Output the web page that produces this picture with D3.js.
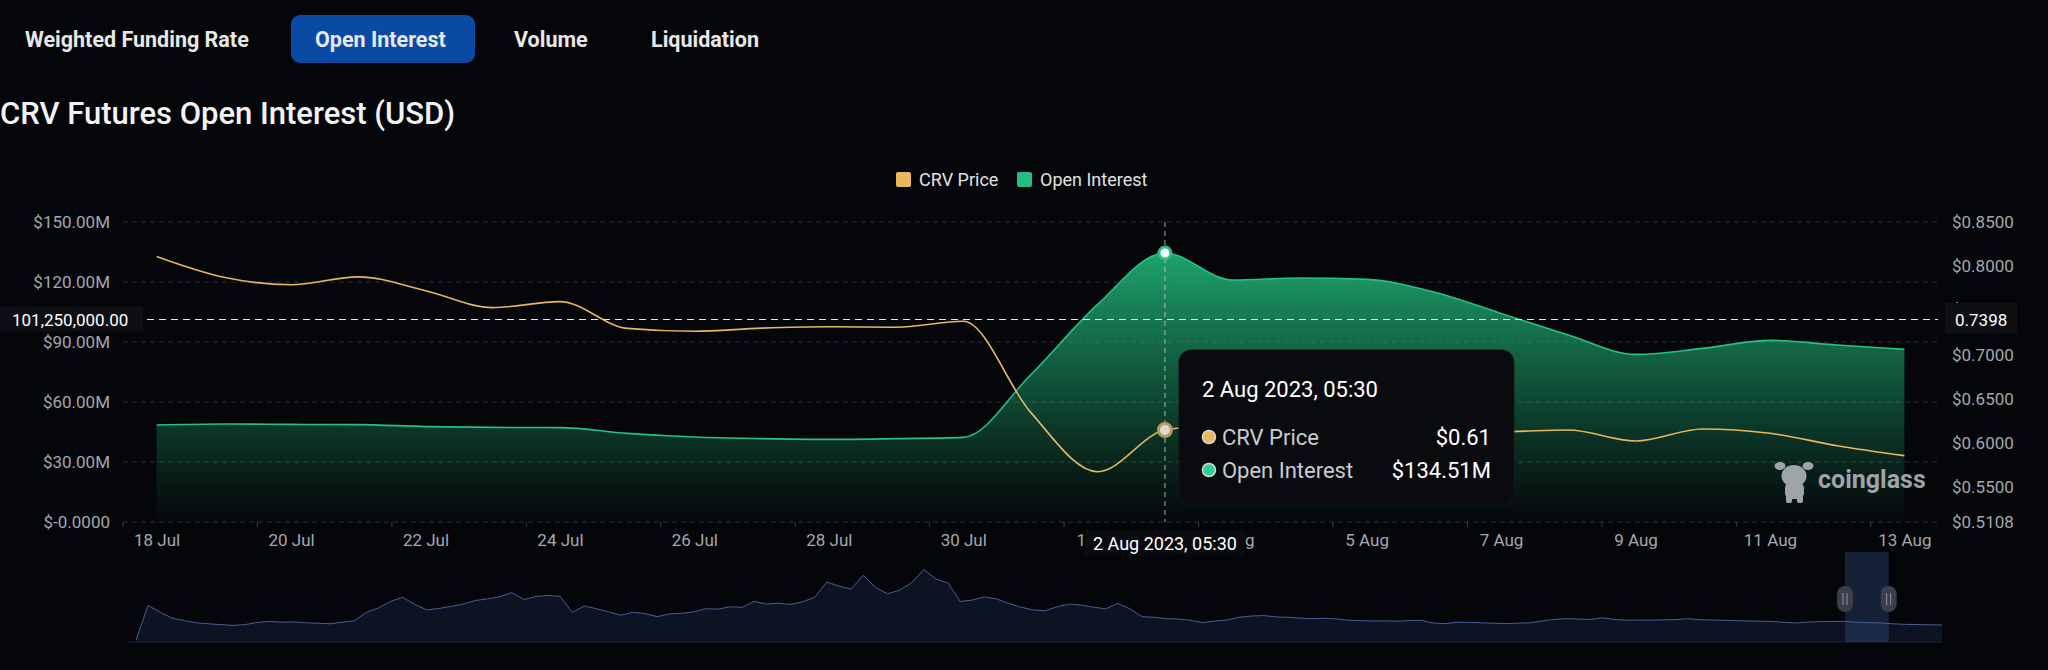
<!DOCTYPE html>
<html lang="en">
<head>
<meta charset="utf-8">
<title>CRV Futures Open Interest</title>
<script src="https://cdn.jsdelivr.net/npm/d3@7"></script>
<style>
body { margin: 0; background: #05060a; }
text { font-family: Roboto, "Noto Sans", sans-serif; }
.tab { fill: #e8e8e8; font-size: 21.5px; font-weight: 700; }
.axis text { fill: #a4a7ae; font-size: 17px; }
.legend text { fill: #e2e2e2; font-size: 18px; }
</style>
</head>
<body>
<script>
// daily points, 18 Jul - 13 Aug 2023
var days = ["18 Jul","19 Jul","20 Jul","21 Jul","22 Jul","23 Jul","24 Jul","25 Jul","26 Jul",
  "27 Jul","28 Jul","29 Jul","30 Jul","31 Jul","1 Aug","2 Aug","3 Aug","4 Aug","5 Aug",
  "6 Aug","7 Aug","8 Aug","9 Aug","10 Aug","11 Aug","12 Aug","13 Aug"];

// open interest, $M
var openInterest = [48.5, 49.0, 48.8, 48.7, 47.7, 47.3, 47.2, 44.3, 42.5,
  41.7, 41.3, 41.7, 42.3, 73.5, 108.8, 134.51, 121.0, 122.0, 121.3,
  115.0, 104.3, 93.5, 83.8, 86.8, 90.8, 88.5, 86.3];

// CRV price, $
var crvPrice = [0.811, 0.7875, 0.779, 0.788, 0.7723, 0.7532, 0.760, 0.7297, 0.7264,
  0.730, 0.7316, 0.731, 0.7377, 0.635, 0.5677, 0.6148, 0.622, 0.625, 0.618,
  0.614, 0.613, 0.6148, 0.6024, 0.616, 0.6111, 0.5971, 0.5858];

var oiTicks = [0, 30, 60, 90, 120, 150];
var oiTickLabels = ["$-0.0000", "$30.00M", "$60.00M", "$90.00M", "$120.00M", "$150.00M"];
var priceTicks = [0.5108, 0.55, 0.60, 0.65, 0.70, 0.75, 0.80, 0.85];
var priceTickLabels = ["$0.5108", "$0.5500", "$0.6000", "$0.6500", "$0.7000", "$0.7500", "$0.8000", "$0.8500"];

// hover state shown in the picture
var hoverIndex = 15;
var hoverLabel = "2 Aug 2023, 05:30";
var pointerOI = 101.25;
var pointerOILabel = "101,250,000.00";
var pointerPriceLabel = "0.7398";

// long history in the zoom slider, $M
var oiHistory = [10, 185, 150, 120, 108, 97, 92, 88, 84, 88, 99, 104, 100, 102, 97, 95, 92, 100, 107, 150,
  172, 205, 226, 190, 162, 170, 180, 192, 210, 218, 228, 250, 215, 230, 236, 230, 150, 182, 168, 152,
  136, 150, 144, 128, 142, 145, 152, 168, 166, 178, 175, 205, 192, 196, 190, 203, 226, 303, 282, 268,
  337, 276, 244, 262, 300, 366, 318, 298, 205, 212, 228, 218, 195, 176, 162, 158, 178, 192, 186, 176,
  168, 195, 168, 128, 125, 118, 116, 110, 98, 106, 111, 125, 131, 134, 127, 125, 121, 118, 120, 117,
  110, 108, 106, 107, 105, 108, 110, 96, 93, 100, 99, 97, 95, 93, 95, 97, 106, 114, 118, 116,
  114, 122, 114, 110, 111, 110, 112, 113, 118, 113, 111, 110, 108, 106, 105, 104, 99, 96, 101, 103,
  104, 104, 100, 98, 96, 92, 89, 88, 87, 86];
var historyWindow = [141, 144.6];

var tabs = ["Weighted Funding Rate", "Open Interest", "Volume", "Liquidation"];
var activeTab = 1;

var W = 2048, H = 670;
var svg = d3.select("body").append("svg")
  .attr("width", W)
  .attr("height", H);

svg.append("rect").attr("width", W).attr("height", H).attr("fill", "#05060a");

/* tabs */
var tabX = [25, 315, 514, 651];
tabs.forEach(function(t, i) {
  if (i == activeTab) {
    svg.append("rect")
      .attr("x", 291).attr("y", 15).attr("width", 184).attr("height", 48)
      .attr("rx", 9).attr("fill", "#0b4aa4");
  }
  svg.append("text").attr("class", "tab")
    .attr("x", tabX[i]).attr("y", 39)
    .attr("dominant-baseline", "central")
    .attr("fill", "#fff")
    .text(t);
});

svg.append("text")
  .attr("x", 0).attr("y", 113)
  .attr("dominant-baseline", "central")
  .attr("fill", "#f2f2f2")
  .style("font-size", "31px").style("font-weight", 500)
  .text("CRV Futures Open Interest (USD)");

/* legend */
var legend = svg.append("g").attr("class", "legend");
var legendItems = [["CRV Price", "#eab85c", 896], ["Open Interest", "#22bf80", 1017]];
legendItems.forEach(function(d) {
  legend.append("rect").attr("x", d[2]).attr("y", 172).attr("width", 15).attr("height", 15)
    .attr("rx", 2).attr("fill", d[1]);
  legend.append("text").attr("x", d[2] + 23).attr("y", 179.5)
    .attr("dominant-baseline", "central").text(d[0]);
});

/* scales */
var gridLeft = 123, gridRight = 1938, plotTop = 222, plotBottom = 522;
var x = d3.scalePoint().domain(days).range([gridLeft, gridRight]).padding(0.5);
var yL = d3.scaleLinear().domain([0, 150]).range([plotBottom, plotTop]);
var yR = d3.scaleLinear().domain([0.5108, 0.85]).range([plotBottom, plotTop]);

/* grid */
svg.append("g").selectAll("line")
  .data(oiTicks)
  .enter().append("line")
  .attr("x1", gridLeft).attr("x2", gridRight)
  .attr("y1", function(d) { return yL(d); })
  .attr("y2", function(d) { return yL(d); })
  .attr("stroke", "#2c2e35")
  .attr("stroke-dasharray", "5,4");

// x ticks on category boundaries, every 2 days
var step = x.step();
svg.append("g").selectAll("line")
  .data(d3.range(0, days.length + 1, 2))
  .enter().append("line")
  .attr("x1", function(k) { return gridLeft + k * step; })
  .attr("x2", function(k) { return gridLeft + k * step; })
  .attr("y1", plotBottom).attr("y2", plotBottom + 5)
  .attr("stroke", "#3a3c44");

/* open interest area */
var grad = svg.append("defs").append("linearGradient")
  .attr("id", "oiFill")
  .attr("gradientUnits", "userSpaceOnUse")
  .attr("x1", 0).attr("x2", 0)
  .attr("y1", yL(d3.max(openInterest))).attr("y2", plotBottom);
grad.append("stop").attr("offset", 0).attr("stop-color", "#22b97a").attr("stop-opacity", 0.88);
grad.append("stop").attr("offset", 0.6).attr("stop-color", "#1a9f68").attr("stop-opacity", 0.38);
grad.append("stop").attr("offset", 1).attr("stop-color", "#14804f").attr("stop-opacity", 0.02);

var area = d3.area()
  .x(function(d, i) { return x(days[i]); })
  .y0(plotBottom)
  .y1(function(d) { return yL(d); })
  .curve(d3.curveMonotoneX);

svg.append("path")
  .datum(openInterest)
  .attr("d", area)
  .attr("fill", "url(#oiFill)");

var oiLine = d3.line()
  .x(function(d, i) { return x(days[i]); })
  .y(function(d) { return yL(d); })
  .curve(d3.curveMonotoneX);

svg.append("path")
  .datum(openInterest)
  .attr("d", oiLine)
  .attr("fill", "none")
  .attr("stroke", "#25c184")
  .attr("stroke-width", 1.6);

/* price line */
var priceLine = d3.line()
  .x(function(d, i) { return x(days[i]); })
  .y(function(d) { return yR(d); })
  .curve(d3.curveMonotoneX);

svg.append("path")
  .datum(crvPrice)
  .attr("d", priceLine)
  .attr("fill", "none")
  .attr("stroke", "#e6b75e")
  .attr("stroke-width", 1.6);

/* watermark */
var wm = svg.append("g").attr("fill", "#b9bdc3").attr("opacity", 0.85);
wm.append("ellipse").attr("cx", 1794).attr("cy", 476).attr("rx", 12.5).attr("ry", 11);
wm.append("ellipse").attr("cx", 1780).attr("cy", 466).attr("rx", 5.5).attr("ry", 4);
wm.append("ellipse").attr("cx", 1808).attr("cy", 466).attr("rx", 5.5).attr("ry", 4);
wm.append("rect").attr("x", 1785).attr("y", 482).attr("width", 19).attr("height", 17).attr("rx", 6);
wm.append("rect").attr("x", 1786).attr("y", 494).attr("width", 6).attr("height", 9).attr("rx", 2);
wm.append("rect").attr("x", 1797).attr("y", 494).attr("width", 6).attr("height", 9).attr("rx", 2);
wm.append("text").attr("x", 1818).attr("y", 488)
  .style("font-size", "25px").style("font-weight", 700)
  .text("coinglass");

/* crosshair */
var hx = x(days[hoverIndex]);
svg.append("line")
  .attr("x1", hx).attr("x2", hx).attr("y1", plotTop).attr("y2", plotBottom)
  .attr("stroke", "#cfd2d6").attr("stroke-dasharray", "5,4").attr("opacity", 0.8);
svg.append("line")
  .attr("x1", gridLeft).attr("x2", gridRight)
  .attr("y1", yL(pointerOI)).attr("y2", yL(pointerOI))
  .attr("stroke", "#e8e8e8").attr("stroke-width", 1.2).attr("stroke-dasharray", "7,5");

svg.append("circle")
  .attr("cx", hx).attr("cy", yL(openInterest[hoverIndex])).attr("r", 6)
  .attr("fill", "#ffffff").attr("stroke", "#25c184").attr("stroke-width", 3);
svg.append("circle")
  .attr("cx", hx).attr("cy", yR(crvPrice[hoverIndex])).attr("r", 6.5)
  .attr("fill", "#d9d9d9").attr("stroke", "#bb9858").attr("stroke-width", 3);

/* axes */
var axL = svg.append("g").attr("class", "axis")
  .attr("transform", "translate(" + (gridLeft - 13) + ",0)")
  .call(d3.axisLeft(yL).tickValues(oiTicks)
    .tickFormat(function(d, i) { return oiTickLabels[i]; })
    .tickSize(0).tickPadding(0));
axL.select(".domain").remove();

var axR = svg.append("g").attr("class", "axis")
  .attr("transform", "translate(" + (gridRight + 14) + ",0)")
  .call(d3.axisRight(yR).tickValues(priceTicks)
    .tickFormat(function(d, i) { return priceTickLabels[i]; })
    .tickSize(0).tickPadding(0));
axR.select(".domain").remove();

var axB = svg.append("g").attr("class", "axis")
  .attr("transform", "translate(0," + (plotBottom + 8) + ")")
  .call(d3.axisBottom(x)
    .tickValues(days.filter(function(d, i) { return i % 2 == 0; }))
    .tickSize(0).tickPadding(4));
axB.select(".domain").remove();

svg.selectAll(".axis text").style("font-family", "Roboto, sans-serif");

/* pointer labels */
svg.append("rect").attr("x", 0).attr("y", yL(pointerOI) - 13).attr("width", 143).attr("height", 25)
  .attr("fill", "#0e0f13");
svg.append("text").attr("x", 12).attr("y", yL(pointerOI))
  .attr("dominant-baseline", "central").attr("fill", "#fff").style("font-size", "17px")
  .text(pointerOILabel);

svg.append("rect").attr("x", 1945).attr("y", yL(pointerOI) - 16.5).attr("width", 72).attr("height", 30)
  .attr("fill", "#0e0f13");
svg.append("text").attr("x", 1955).attr("y", yL(pointerOI))
  .attr("dominant-baseline", "central").attr("fill", "#fff").style("font-size", "17px")
  .text(pointerPriceLabel);

svg.append("rect").attr("x", hx - 80).attr("y", plotBottom + 8).attr("width", 160).attr("height", 25)
  .attr("fill", "#0b0c10");
svg.append("text").attr("x", hx).attr("y", plotBottom + 21)
  .attr("text-anchor", "middle").attr("dominant-baseline", "central")
  .attr("fill", "#fff").style("font-size", "18px")
  .text(hoverLabel);

/* tooltip */
var tip = svg.append("g").attr("transform", "translate(" + (hx + 14) + ",350)");
tip.append("rect").attr("width", 335).attr("height", 155).attr("rx", 12)
  .attr("fill", "#0a0b0f").attr("stroke", "#15171c");
tip.append("text").attr("x", 23).attr("y", 39)
  .attr("dominant-baseline", "central").attr("fill", "#fff").style("font-size", "22px")
  .text(hoverLabel);
var rows = [["CRV Price", "$" + crvPrice[hoverIndex].toFixed(2), "#e9b85c"],
            ["Open Interest", "$" + openInterest[hoverIndex].toFixed(2) + "M", "#2fcf92"]];
rows.forEach(function(r, i) {
  var ry = 87 + i * 33;
  tip.append("circle").attr("cx", 30).attr("cy", ry).attr("r", 6.5)
    .attr("fill", r[2]).attr("stroke", "#d8d8d8").attr("stroke-width", 1.5);
  tip.append("text").attr("x", 43).attr("y", ry)
    .attr("dominant-baseline", "central").attr("fill", "#c9ccd1").style("font-size", "22px")
    .text(r[0]);
  tip.append("text").attr("x", 312).attr("y", ry)
    .attr("text-anchor", "end").attr("dominant-baseline", "central")
    .attr("fill", "#fff").style("font-size", "22px")
    .text(r[1]);
});

/* zoom slider */
var sx = d3.scaleLinear().domain([0, oiHistory.length - 1]).range([136, 1942]);
var sy = d3.scaleLinear().domain([0, 455]).range([642, 552]);

svg.append("path")
  .datum(oiHistory)
  .attr("d", d3.area()
    .x(function(d, i) { return sx(i); })
    .y0(sy(0))
    .y1(function(d) { return sy(d); }))
  .attr("fill", "#0c1322");
svg.append("path")
  .datum(oiHistory)
  .attr("d", d3.line()
    .x(function(d, i) { return sx(i); })
    .y(function(d) { return sy(d); }))
  .attr("fill", "none")
  .attr("stroke", "#4b5c98")
  .attr("stroke-width", 1);
svg.append("line")
  .attr("x1", 127).attr("x2", sx(oiHistory.length - 1))
  .attr("y1", sy(0)).attr("y2", sy(0))
  .attr("stroke", "#1d2538");

svg.append("rect")
  .attr("x", sx(historyWindow[0])).attr("y", sy(455))
  .attr("width", sx(historyWindow[1]) - sx(historyWindow[0])).attr("height", sy(0) - sy(455))
  .attr("fill", "#3f5f9e").attr("opacity", 0.3);

historyWindow.forEach(function(v) {
  var hxp = sx(v);
  svg.append("rect").attr("x", hxp - 8).attr("y", 586).attr("width", 16).attr("height", 26)
    .attr("rx", 8).attr("fill", "#3b3f49");
  svg.append("line").attr("x1", hxp - 2).attr("x2", hxp - 2).attr("y1", 593).attr("y2", 605)
    .attr("stroke", "#8d9199");
  svg.append("line").attr("x1", hxp + 2).attr("x2", hxp + 2).attr("y1", 593).attr("y2", 605)
    .attr("stroke", "#8d9199");
});
</script>
</body>
</html>
